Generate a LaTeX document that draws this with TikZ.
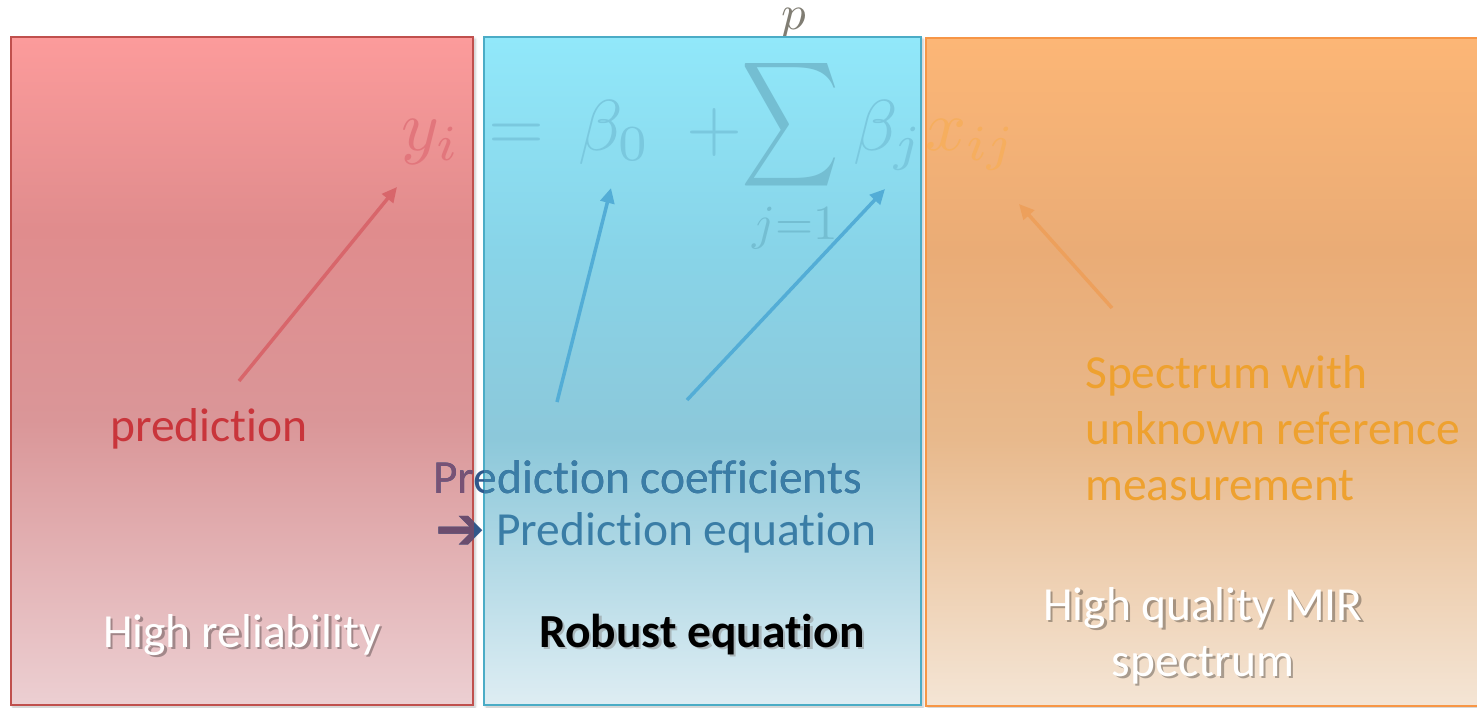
\documentclass[tikz,border=0pt]{standalone}
\usepackage[no-math]{fontspec}
\setmainfont{Carlito}[Ligatures=NoCommon]
\newfontfamily\dejavu{DejaVu Sans}
\usepackage{graphicx}
\usetikzlibrary{arrows.meta,shadows.blur}
\definecolor{rtop}{RGB}{252,155,155}
\definecolor{rmid}{RGB}{224,140,141}
\definecolor{rlow}{RGB}{218,150,152}
\definecolor{rbot}{RGB}{236,207,210}
\definecolor{ctop}{RGB}{145,232,250}
\definecolor{cmid}{RGB}{136,212,232}
\definecolor{clow}{RGB}{140,200,218}
\definecolor{cbot}{RGB}{222,237,243}
\definecolor{otop}{RGB}{252,182,118}
\definecolor{omid}{RGB}{234,172,118}
\definecolor{olow}{RGB}{232,185,140}
\definecolor{obot}{RGB}{244,229,213}
\definecolor{rline}{RGB}{192,80,77}
\definecolor{cline}{RGB}{75,172,198}
\definecolor{oline}{RGB}{247,150,70}
\definecolor{rarrow}{RGB}{216,102,107}
\definecolor{carrow}{RGB}{83,173,214}
\definecolor{oarrow}{RGB}{237,160,92}
\definecolor{fy}{RGB}{226,118,124}
\definecolor{fc}{RGB}{122,200,222}
\definecolor{fs}{RGB}{116,190,210}
\definecolor{fo}{RGB}{246,174,94}
\definecolor{fp}{RGB}{128,125,115}
\definecolor{predred}{RGB}{201,53,59}
\definecolor{specor}{RGB}{238,161,47}
\definecolor{pdark}{RGB}{48,88,140}
\definecolor{ppurple}{RGB}{120,82,117}
\definecolor{pblue}{RGB}{58,125,166}
\definecolor{apurple}{RGB}{107,77,110}
\pgfdeclareverticalshading{redsh}{100bp}{color(0bp)=(rbot); color(25bp)=(rbot); color(46.3bp)=(rlow); color(60.6bp)=(rmid); color(75bp)=(rtop); color(100bp)=(rtop)}
\pgfdeclareverticalshading{cyansh}{100bp}{color(0bp)=(cbot); color(25bp)=(cbot); color(45bp)=(clow); color(59bp)=(cmid); color(75bp)=(ctop); color(100bp)=(ctop)}
\pgfdeclareverticalshading{orsh}{100bp}{color(0bp)=(obot); color(25bp)=(obot); color(45bp)=(olow); color(59bp)=(omid); color(75bp)=(otop); color(100bp)=(otop)}
\newcommand\fbig[1]{\scalebox{7.2}{$#1$}}
\newcommand\fsml[1]{\scalebox{4.9}{$#1$}}
\begin{document}
\begin{tikzpicture}[x=1pt,y=-1pt,
  panel/.style={shade, line width=1.4pt, inner sep=0pt, outer sep=0pt, anchor=north west,
    blur shadow={shadow xshift=2pt,shadow yshift=-2pt,shadow blur radius=2.5pt,shadow opacity=25}},
  fml/.style={inner sep=0pt, anchor=base west},
  fmls/.style={inner sep=0pt},
  arr/.style={line width=3.5pt, -{Triangle[length=15pt,width=14pt]}},
  txt/.style={inner sep=0pt, anchor=base west, font=\fontsize{47.5}{56}\selectfont},
  lbl/.style={inner sep=0pt, anchor=base, font=\fontsize{47.5}{56}\selectfont},
  glyph/.style={inner sep=0pt, anchor=base west, font=\dejavu\bfseries\fontsize{60}{64}\selectfont}
]
\useasboundingbox (0,0) rectangle (1477,707);
% formula piece above the panels
\node[fmls, text=fp] (p) at (794,24) {\fsml{p}};
% panels
\node[panel, shading=redsh, draw=rline, minimum width=462pt, minimum height=668pt] (red) at (11,37) {};
\node[panel, shading=cyansh, draw=cline, minimum width=437pt, minimum height=668pt] (cyan) at (484,37) {};
\node[panel, shading=orsh, draw=oline, minimum width=600pt, minimum height=668pt] (orange) at (926,38) {};
% formula
\node[fml, text=fy] (yi) at (401,150) {\fbig{y_i}};
\node[fml, text=fc] (eq) at (488,150) {\fbig{=}};
\node[fml, text=fc] (b0) at (578,150) {\fbig{\beta_0}};
\node[fml, text=fc] (plus) at (686,150) {\fbig{+}};
\node[inner sep=0pt, text=fs] (sum) at (791,125) {\resizebox*{98pt}{140pt}{$\displaystyle\sum$}};
\node[fmls, text=fs] (j1) at (795,228) {\fsml{j{=}1}};
\node[fml, text=fc] (bj) at (853,150) {\fbig{\beta_j}};
\node[fml, text=fo] (xij) at (925,150) {\fbig{x_{ij}}};
% arrows
\coordinate (ra1) at (239,381); \coordinate (ra2) at (397,187);
\coordinate (ca1) at (557,402); \coordinate (ca2) at (611,188);
\coordinate (cb1) at (687,400); \coordinate (cb2) at (885,189);
\coordinate (oa1) at (1112,308); \coordinate (oa2) at (1019,204);
\draw[arr, draw=rarrow] (ra1) -- (ra2);
\draw[arr, draw=carrow] (ca1) -- (ca2);
\draw[arr, draw=carrow] (cb1) -- (cb2);
\draw[arr, draw=oarrow] (oa1) -- (oa2);
% texts
\node[txt, text=predred] (pred) at (110,441) {prediction};
\node[txt, text=pdark] (pc) at (433,493) {Prediction coefficients};
\node[glyph, text=pdark] (ar) at (435,549) {➔};
\begin{scope}
\clip (red.north west) rectangle (red.south east);
\node[txt, text=ppurple] (pcr) at (433,493) {Prediction coefficients};
\node[glyph, text=apurple] (arr2) at (435,549) {➔};
\end{scope}
\begin{scope}
\clip (cyan.north west) rectangle (cyan.south east);
\node[txt, text=pblue] (pcc) at (433,493) {Prediction coefficients};
\end{scope}
\node[txt, text=pblue] (pe) at (496,545) {Prediction equation};
\node[txt, text=specor] (s1) at (1085,388) {Spectrum with};
\node[txt, text=specor] (s2) at (1085,444) {unknown reference};
\node[txt, text=specor] (s3) at (1085,500) {measurement};
% bottom labels
\node[lbl, text=black, opacity=0.3] (hr0) at (244.5,649.5) {High reliability};
\node[lbl, text=white] (hr) at (242,647) {High reliability};
\node[lbl, text=black!45, opacity=0.5, font=\bfseries\fontsize{47.5}{56}\selectfont] (re0) at (704.5,649.5) {Robust equation};
\node[lbl, text=black, font=\bfseries\fontsize{47.5}{56}\selectfont] (re) at (702,647) {Robust equation};
\node[lbl, text=black, opacity=0.3] (hq0) at (1205.5,622.5) {High quality MIR};
\node[lbl, text=white] (hq) at (1203,620) {High quality MIR};
\node[lbl, text=black, opacity=0.3] (sp0) at (1205.5,678.5) {spectrum};
\node[lbl, text=white] (sp) at (1203,676) {spectrum};
\end{tikzpicture}
\end{document}
